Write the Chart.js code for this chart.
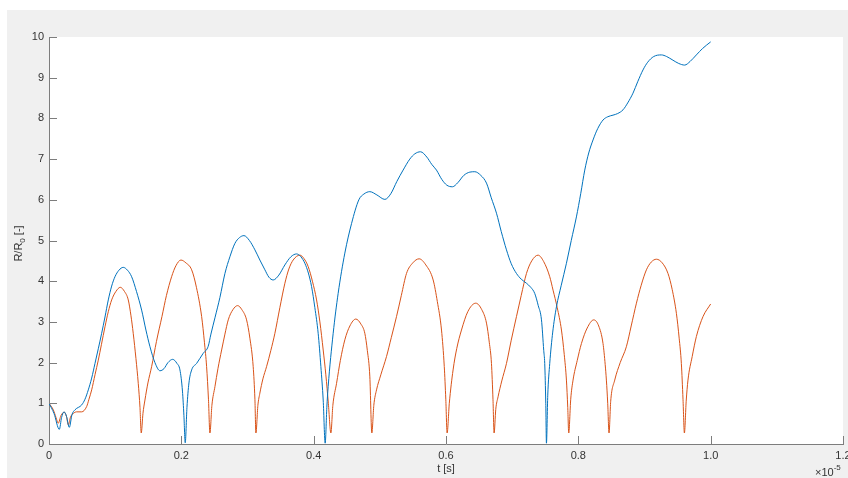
<!DOCTYPE html>
<html>
<head>
<meta charset="utf-8">
<script src="https://cdn.jsdelivr.net/npm/chart.js@4.4.0/dist/chart.umd.min.js"></script>
<style>
  html, body { margin: 0; padding: 0; background: #ffffff; }
  #wrap { width: 848px; height: 478px; }
</style>
</head>
<body>
<div id="wrap"><canvas id="c" width="848" height="478"></canvas></div>
<script>
// time in units of 1e-5 s
const tBlue = [
  0, 0.0076, 0.0156, 0.019, 0.0227, 0.0264, 0.0307, 0.0347, 0.0393, 0.0494,
  0.0544, 0.0594, 0.0645, 0.0695, 0.0745, 0.0796, 0.0846, 0.0896, 0.0947, 0.0997,
  0.1057, 0.1122, 0.1186, 0.1249, 0.1322, 0.1400, 0.1465, 0.1526, 0.1601, 0.1677,
  0.1737, 0.1798, 0.1869, 0.1934, 0.1979, 0.2017, 0.2039, 0.2059, 0.2085, 0.2115,
  0.2156, 0.2231, 0.2331, 0.2406, 0.2447, 0.2508, 0.2583, 0.2659, 0.2734, 0.2810,
  0.2878, 0.2946, 0.3029, 0.3112, 0.3187, 0.3263, 0.3323, 0.3388, 0.3474, 0.3565,
  0.3656, 0.3742, 0.3807, 0.3867, 0.3920, 0.3968, 0.4018, 0.4068, 0.4109, 0.4144,
  0.4174, 0.4199, 0.4219, 0.4295, 0.4370, 0.4471, 0.4573, 0.4683, 0.4758, 0.4849,
  0.4955, 0.5076, 0.5166, 0.5257, 0.5352, 0.5453, 0.5529, 0.5615, 0.5710, 0.5785,
  0.5856, 0.5937, 0.6012, 0.6098, 0.6178, 0.6269, 0.6360, 0.6435, 0.6526, 0.6612,
  0.6684, 0.6763, 0.6835, 0.6914, 0.6986, 0.7065, 0.7137, 0.7216, 0.7281, 0.7341,
  0.7394, 0.7443, 0.7477, 0.7492, 0.7508, 0.7518, 0.7538, 0.7568, 0.7613, 0.7669,
  0.7742, 0.7820, 0.7893, 0.7971, 0.8036, 0.8097, 0.8157, 0.8222, 0.8293, 0.8373,
  0.8444, 0.8524, 0.8595, 0.8675, 0.8746, 0.8826, 0.8897, 0.8977, 0.9048, 0.9139,
  0.9255, 0.9335, 0.9430, 0.9517, 0.9607, 0.9690, 0.9784, 0.9879, 1.0
];
const rBlue = [
  1.00, 0.75, 0.36, 0.65, 0.79, 0.68, 0.41, 0.72, 0.84, 0.96,
  1.10, 1.33, 1.62, 1.98, 2.34, 2.72, 3.12, 3.54, 3.88, 4.11,
  4.27, 4.34, 4.27, 4.11, 3.75, 3.29, 2.80, 2.39, 2.00, 1.80,
  1.85, 2.00, 2.08, 1.98, 1.82, 1.30, 0.70, 0.03, 0.90, 1.50,
  1.82, 1.98, 2.23, 2.40, 2.70, 3.10, 3.60, 4.19, 4.60, 4.93,
  5.07, 5.12, 5.00, 4.77, 4.52, 4.28, 4.10, 4.03, 4.15, 4.40,
  4.60, 4.67, 4.60, 4.44, 4.20, 3.87, 3.35, 2.72, 1.90, 1.08,
  0.02, 0.90, 1.41, 2.72, 3.70, 4.69, 5.42, 6.00, 6.14, 6.20,
  6.12, 6.01, 6.15, 6.45, 6.73, 7.00, 7.13, 7.18, 7.05, 6.87,
  6.73, 6.50, 6.36, 6.32, 6.42, 6.60, 6.68, 6.69, 6.60, 6.41,
  6.05, 5.67, 5.22, 4.77, 4.43, 4.19, 4.05, 3.95, 3.85, 3.70,
  3.40, 3.05, 2.30, 1.98, 1.00, 0.02, 1.20, 1.98, 2.75, 3.37,
  3.90, 4.44, 5.00, 5.58, 6.15, 6.73, 7.15, 7.47, 7.75, 7.96,
  8.04, 8.08, 8.12, 8.21, 8.38, 8.62, 8.90, 9.19, 9.38, 9.52,
  9.56, 9.52, 9.43, 9.35, 9.31, 9.40, 9.56, 9.72, 9.88
];
const tRed = [
  0, 0.0065, 0.0106, 0.0140, 0.0181, 0.0231, 0.0264, 0.0292, 0.0325, 0.0367,
  0.0418, 0.0494, 0.0569, 0.0604, 0.0645, 0.0695, 0.0745, 0.0793, 0.0846, 0.0896,
  0.0947, 0.1012, 0.1077, 0.1140, 0.1198, 0.1239, 0.1273, 0.1314, 0.1349, 0.1375,
  0.1394, 0.1420, 0.1450, 0.1495, 0.1551, 0.1624, 0.1707, 0.1775, 0.1853, 0.1918,
  0.1994, 0.2069, 0.2156, 0.2228, 0.2307, 0.2349, 0.2382, 0.2410, 0.2432, 0.2462,
  0.2508, 0.2553, 0.2609, 0.2659, 0.2709, 0.2779, 0.2851, 0.2915, 0.2986, 0.3036,
  0.3086, 0.3112, 0.3127, 0.3157, 0.3187, 0.3233, 0.3288, 0.3353, 0.3414, 0.3489,
  0.3565, 0.3625, 0.3690, 0.3792, 0.3852, 0.3917, 0.3981, 0.4044, 0.4094, 0.4144,
  0.4184, 0.4222, 0.4260, 0.4290, 0.4346, 0.4403, 0.4471, 0.4547, 0.4637, 0.4713,
  0.4773, 0.4811, 0.4849, 0.4879, 0.4909, 0.4950, 0.5015, 0.5101, 0.5174, 0.5252,
  0.5325, 0.5403, 0.5498, 0.5594, 0.5695, 0.5806, 0.5869, 0.5932, 0.5974, 0.5997,
  0.6017, 0.6050, 0.6107, 0.6163, 0.6234, 0.6329, 0.6450, 0.6541, 0.6612, 0.6654,
  0.6687, 0.6710, 0.6727, 0.6752, 0.6787, 0.6843, 0.6914, 0.6986, 0.7065, 0.7137,
  0.7216, 0.7296, 0.7391, 0.7477, 0.7568, 0.7618, 0.7681, 0.7745, 0.7787, 0.7820,
  0.7840, 0.7855, 0.7885, 0.7920, 0.7983, 0.8047, 0.8134, 0.8233, 0.8308, 0.8373,
  0.8406, 0.8424, 0.8444, 0.8464, 0.8489, 0.8550, 0.8633, 0.8726, 0.8799, 0.8878,
  0.8950, 0.9029, 0.9102, 0.9180, 0.9268, 0.9355, 0.9418, 0.9482, 0.9524, 0.9557,
  0.9582, 0.9603, 0.9630, 0.9657, 0.9721, 0.9784, 0.9884, 1.0
];
const rRed = [
  1.00, 0.84, 0.65, 0.51, 0.70, 0.78, 0.68, 0.47, 0.66, 0.75,
  0.79, 0.79, 0.92, 1.10, 1.33, 1.70, 2.06, 2.45, 2.88, 3.25,
  3.54, 3.75, 3.85, 3.75, 3.54, 3.15, 2.72, 2.10, 1.49, 0.90,
  0.27, 0.75, 1.08, 1.50, 1.90, 2.52, 3.13, 3.65, 4.11, 4.38,
  4.52, 4.45, 4.28, 3.85, 3.13, 2.50, 1.90, 1.10, 0.27, 0.95,
  1.41, 1.85, 2.31, 2.70, 3.05, 3.30, 3.40, 3.30, 3.05, 2.60,
  1.90, 1.10, 0.27, 0.95, 1.25, 1.60, 1.90, 2.30, 2.72, 3.35,
  3.95, 4.30, 4.52, 4.64, 4.56, 4.36, 4.00, 3.54, 3.00, 2.31,
  1.70, 1.00, 0.27, 0.95, 1.49, 2.05, 2.56, 2.90, 3.07, 2.95,
  2.72, 2.30, 1.65, 0.27, 0.95, 1.33, 1.70, 2.15, 2.62, 3.13,
  3.65, 4.19, 4.45, 4.55, 4.40, 4.03, 3.50, 2.80, 1.90, 1.10,
  0.27, 1.00, 1.82, 2.35, 2.80, 3.25, 3.46, 3.30, 2.97, 2.50,
  1.98, 1.10, 0.27, 0.85, 1.16, 1.55, 1.98, 2.55, 3.13, 3.65,
  4.19, 4.50, 4.64, 4.48, 4.11, 3.78, 3.35, 2.80, 2.20, 1.57,
  0.90, 0.27, 1.10, 1.57, 2.05, 2.47, 2.85, 3.05, 2.90, 2.47,
  1.95, 1.57, 1.00, 0.27, 1.05, 1.57, 2.00, 2.39, 2.90, 3.46,
  3.90, 4.28, 4.47, 4.54, 4.45, 4.19, 3.80, 3.21, 2.60, 1.98,
  1.10, 0.27, 1.05, 1.57, 2.15, 2.64, 3.13, 3.44
];
const xTicks = [0, 0.2, 0.4, 0.6, 0.8, 1, 1.2];
const yTicks = [0, 1, 2, 3, 4, 5, 6, 7, 8, 9, 10];
const xLabel = 't [s]';
const yLabelMain = 'R/R';
const yLabelSub = '0';
const yLabelRest = ' [-]';
const xExpBase = '\u00d710';
const xExpPow = '-5';

const zip = (ts, rs) => ts.map((t, i) => ({ x: t, y: rs[i] }));
const FONT = '"Liberation Sans", Arial, Helvetica, sans-serif';
const AX = '#7d7d7d';
const TXT = '#333333';

const decor = {
  id: 'decor',
  beforeDraw(chart) {
    const ctx = chart.ctx, a = chart.chartArea;
    ctx.save();
    ctx.fillStyle = '#ffffff';
    ctx.fillRect(0, 0, chart.width, chart.height);
    ctx.fillStyle = '#f0f0f0';
    ctx.fillRect(7, 10, chart.width - 7, chart.height - 10);
    ctx.fillStyle = '#ffffff';
    ctx.fillRect(a.left, a.top, a.right - a.left, a.bottom - a.top);
    ctx.restore();
  },
  afterDraw(chart) {
    const ctx = chart.ctx, a = chart.chartArea;
    const xs = chart.scales.x, ys = chart.scales.y;
    ctx.save();
    ctx.strokeStyle = AX;
    ctx.lineWidth = 1;
    ctx.beginPath();
    yTicks.forEach(v => {
      const p = Math.round(ys.getPixelForValue(v)) + 0.5;
      ctx.moveTo(a.left, p); ctx.lineTo(a.left + 8, p);
    });
    xTicks.forEach(v => {
      const p = Math.round(xs.getPixelForValue(v)) + 0.5;
      ctx.moveTo(p, a.bottom); ctx.lineTo(p, a.bottom - 8);
    });
    ctx.stroke();

    ctx.fillStyle = TXT;
    ctx.font = '11px ' + FONT;
    ctx.textAlign = 'center';
    ctx.textBaseline = 'alphabetic';
    ctx.fillText(xLabel, (a.left + a.right) / 2, 472);

    ctx.textAlign = 'left';
    ctx.font = '11px ' + FONT;
    ctx.fillText(xExpBase, 815, 476);
    const w1 = ctx.measureText(xExpBase).width;
    ctx.font = '8px ' + FONT;
    ctx.fillText(xExpPow, 815 + w1, 470);

    ctx.translate(22, (a.top + a.bottom) / 2 + 3);
    ctx.rotate(-Math.PI / 2);
    ctx.font = '11px ' + FONT;
    const wm = ctx.measureText(yLabelMain).width;
    const wr = ctx.measureText(yLabelRest).width;
    ctx.font = '8px ' + FONT;
    const ws = ctx.measureText(yLabelSub).width;
    let x0 = -(wm + ws + wr) / 2;
    ctx.font = '11px ' + FONT;
    ctx.fillText(yLabelMain, x0, 0);
    ctx.font = '8px ' + FONT;
    ctx.fillText(yLabelSub, x0 + wm, 3);
    ctx.font = '11px ' + FONT;
    ctx.fillText(yLabelRest, x0 + wm + ws, 0);
    ctx.restore();
  }
};

new Chart(document.getElementById('c'), {
  type: 'line',
  data: {
    datasets: [
      { label: 'blue', data: zip(tBlue, rBlue), borderColor: '#0072BD', borderWidth: 1,
        pointRadius: 0, cubicInterpolationMode: 'monotone', fill: false },
      { label: 'red', data: zip(tRed, rRed), borderColor: '#D95319', borderWidth: 1,
        pointRadius: 0, cubicInterpolationMode: 'monotone', fill: false }
    ]
  },
  options: {
    responsive: false,
    animation: false,
    devicePixelRatio: 1,
    layout: { padding: { left: 0, right: 5, top: 37, bottom: 0 } },
    plugins: { legend: { display: false }, tooltip: { enabled: false }, title: { display: false } },
    elements: { line: { borderJoinStyle: 'round' } },
    scales: {
      x: {
        type: 'linear', min: 0, max: 1.2,
        afterBuildTicks: s => { s.ticks = xTicks.map(v => ({ value: v })); },
        afterFit: s => { s.height = 34; s.paddingLeft = 0; s.paddingRight = 0; },
        grid: { display: true, drawOnChartArea: false, drawTicks: false },
        border: { display: true, color: AX, width: 1 },
        ticks: { color: TXT, font: { family: FONT, size: 11 }, padding: 5, maxRotation: 0, autoSkip: false }
      },
      y: {
        type: 'linear', min: 0, max: 10,
        afterBuildTicks: s => { s.ticks = yTicks.map(v => ({ value: v })); },
        afterFit: s => { s.width = 49; s.paddingTop = 0; s.paddingBottom = 0; },
        grid: { display: true, drawOnChartArea: false, drawTicks: false },
        border: { display: true, color: AX, width: 1 },
        ticks: { color: TXT, font: { family: FONT, size: 11 }, padding: 5, autoSkip: false }
      }
    }
  },
  plugins: [decor]
});
</script>
</body>
</html>
